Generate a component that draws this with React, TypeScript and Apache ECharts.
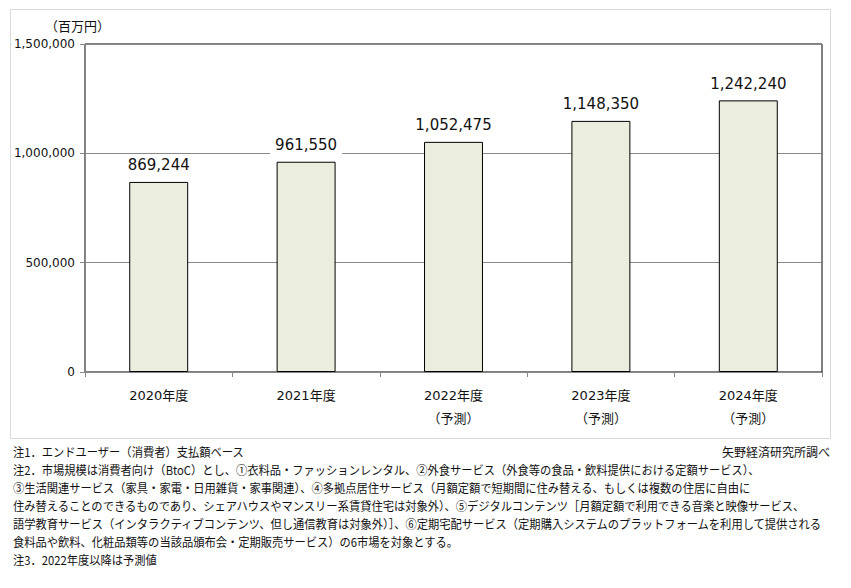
import React, { useEffect, useRef } from "react";
import * as echarts from "echarts";

const categories = ["2020年度", "2021年度", "2022年度\n（予測）", "2023年度\n（予測）", "2024年度\n（予測）"];
const values = [869244, 961550, 1052475, 1148350, 1242240];
const yTicks = { min: 0, max: 1500000, interval: 500000 };
const unitLabel = "（百万円）";
const sourceLabel = "矢野経済研究所調べ";
const notes = [
  "注1．エンドユーザー（消費者）支払額ベース",
  "注2．市場規模は消費者向け（BtoC）とし、①衣料品・ファッションレンタル、②外食サービス（外食等の食品・飲料提供における定額サービス）、",
  "③生活関連サービス（家具・家電・日用雑貨・家事関連）、④多拠点居住サービス（月額定額で短期間に住み替える、もしくは複数の住居に自由に",
  "住み替えることのできるものであり、シェアハウスやマンスリー系賃貸住宅は対象外）、⑤デジタルコンテンツ［月額定額で利用できる音楽と映像サービス、",
  "語学教育サービス（インタラクティブコンテンツ、但し通信教育は対象外）］、⑥定期宅配サービス（定期購入システムのプラットフォームを利用して提供される",
  "食料品や飲料、化粧品類等の当該品頒布会・定期販売サービス）の6市場を対象とする。",
  "注3．2022年度以降は予測値",
];

const FONT = "'DejaVu Sans', 'Noto Sans CJK JP', sans-serif";
const JP = "'Noto Sans CJK JP', sans-serif";

const fmt = (v: number) => v.toLocaleString("en-US");

export default function App() {
  const ref = useRef<HTMLDivElement>(null);
  useEffect(() => {
    if (!ref.current) return;
    const chart = echarts.init(ref.current, null, { renderer: "svg" });
    const noteGraphics: any[] = notes.map((t, i) => ({
      type: "text",
      x: 13,
      y: 451 + i * 18,
      scaleX: 0.94,
      style: { text: t, fontSize: 12, fontFamily: JP, fill: "#111", verticalAlign: "middle", align: "left" },
    }));
    chart.setOption({
      animation: false,
      backgroundColor: "#fff",
      grid: {
        left: 85,
        top: 44,
        right: 29,
        bottom: 216,
        show: true,
        borderColor: "#000",
        borderWidth: 1,
        backgroundColor: "transparent",
      },
      xAxis: {
        type: "category",
        data: categories,
        axisLine: { lineStyle: { color: "#888", width: 1 } },
        axisTick: { show: true, length: 5, lineStyle: { color: "#888" } },
        axisLabel: { fontSize: 13, fontFamily: FONT, color: "#111", margin: 12, lineHeight: 23 },
      },
      yAxis: {
        type: "value",
        min: yTicks.min,
        max: yTicks.max,
        interval: yTicks.interval,
        axisLine: { show: true, lineStyle: { color: "#888", width: 1 } },
        axisTick: { show: true, length: 5, lineStyle: { color: "#888" } },
        axisLabel: { fontSize: 12, fontFamily: FONT, color: "#111", margin: 10, formatter: (v: number) => fmt(v) },
        splitLine: { show: true, lineStyle: { color: "#888", width: 1 } },
      },
      series: [
        {
          type: "bar",
          data: values,
          barWidth: "40%",
          itemStyle: { color: "#EBEEDF", borderColor: "#000", borderWidth: 1 },
          label: {
            show: true,
            position: "top",
            distance: 6,
            fontSize: 15,
            fontFamily: FONT,
            color: "#111",
            backgroundColor: "#fff",
            padding: [3, 5],
            formatter: (p: any) => fmt(p.value),
          },
        },
      ],
      graphic: [
        {
          type: "rect",
          shape: { x: 10.5, y: 9.5, width: 820, height: 429 },
          style: { fill: "none", stroke: "#d9d9d9", lineWidth: 1 },
          z: -1,
        },
        {
          type: "text",
          x: 45,
          y: 25,
          style: { text: unitLabel, fontSize: 13, fontFamily: JP, fill: "#111", verticalAlign: "middle" },
        },
        {
          type: "text",
          x: 830,
          y: 451,
          style: { text: sourceLabel, fontSize: 12, fontFamily: JP, fill: "#111", verticalAlign: "middle", align: "right" },
        },
        ...noteGraphics,
      ],
    });
    return () => chart.dispose();
  }, []);
  return <div ref={ref} style={{ position: "fixed", left: 0, top: 0, width: 851, height: 588 }} />;
}
